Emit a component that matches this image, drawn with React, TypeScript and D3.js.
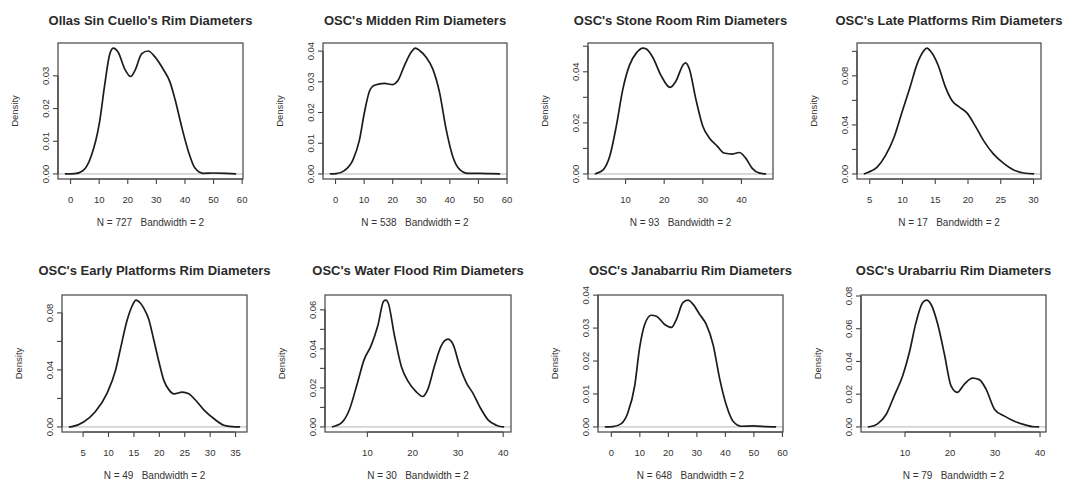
import React from 'react';
import * as d3 from 'd3';

// ---------- data ----------
const titles = [
  "Ollas Sin Cuello's Rim Diameters",
  "OSC's Midden Rim Diameters",
  "OSC's Stone Room Rim Diameters",
  "OSC's Late Platforms Rim Diameters",
  "OSC's Early Platforms Rim Diameters",
  "OSC's Water Flood Rim Diameters",
  "OSC's Janabarriu Rim Diameters",
  "OSC's Urabarriu Rim Diameters",
];
const sampleSizes = [727, 538, 93, 17, 49, 30, 648, 79];
const bandwidths = [2, 2, 2, 2, 2, 2, 2, 2];

const xTicks = [
  [0, 10, 20, 30, 40, 50, 60],
  [0, 10, 20, 30, 40, 50, 60],
  [10, 20, 30, 40],
  [5, 10, 15, 20, 25, 30],
  [5, 10, 15, 20, 25, 30, 35],
  [10, 20, 30, 40],
  [0, 10, 20, 30, 40, 50, 60],
  [10, 20, 30, 40],
];
const yTicks = [
  [0, 0.01, 0.02, 0.03],
  [0, 0.01, 0.02, 0.03, 0.04],
  [0, 0.01, 0.02, 0.03, 0.04, 0.05],
  [0, 0.02, 0.04, 0.06, 0.08, 0.1],
  [0, 0.02, 0.04, 0.06, 0.08],
  [0, 0.01, 0.02, 0.03, 0.04, 0.05, 0.06],
  [0, 0.01, 0.02, 0.03, 0.04],
  [0, 0.02, 0.04, 0.06, 0.08],
];
const yTickLabels = [
  ["0.00", "0.01", "0.02", "0.03"],
  ["0.00", "0.01", "0.02", "0.03", "0.04"],
  ["0.00", "", "0.02", "", "0.04", ""],
  ["0.00", "", "0.04", "", "0.08", ""],
  ["0.00", "", "0.04", "", "0.08"],
  ["0.00", "", "0.02", "", "0.04", "", "0.06"],
  ["0.00", "0.01", "0.02", "0.03", "0.04"],
  ["0.00", "0.02", "0.04", "0.06", "0.08"],
];

const ollasCurve: [number, number][] = [
  [-2, 0], [1.4, 0.0001], [4.3, 0.001], [7.2, 0.0054], [10.1, 0.0157], [11.9, 0.027],
  [13.6, 0.0363], [14.9, 0.0385], [16.6, 0.0373], [19.0, 0.032], [21.0, 0.0298],
  [22.5, 0.0316], [24.9, 0.0368], [27.2, 0.0376], [29.5, 0.0358], [32.4, 0.032],
  [34.8, 0.028], [36.5, 0.0229], [38.8, 0.0146], [41.2, 0.0069], [43.5, 0.0018],
  [46.4, 0.0002], [49.9, 0.0003], [54.6, 0.0002], [57.9, 0],
];
const middenCurve: [number, number][] = [
  [-2, 0], [0.2, 0.0001], [3.1, 0.0011], [6.1, 0.0046], [8.4, 0.0112], [10.1, 0.02],
  [11.9, 0.027], [13.6, 0.0289], [17.1, 0.0295], [20.0, 0.0291], [21.8, 0.0304],
  [24.1, 0.0353], [26.5, 0.0397], [27.9, 0.041], [29.4, 0.0402], [31.7, 0.038],
  [34.0, 0.0342], [36.4, 0.0265], [38.7, 0.0145], [41.0, 0.0057], [43.4, 0.0015],
  [46.3, 0.0002], [50.9, 0.0002], [54.4, 0.0001], [57.6, 0],
];
const stoneRoomCurve: [number, number][] = [
  [2.05, 0], [2.4, 0.0002], [4.2, 0.0016], [5.9, 0.0069], [7.6, 0.0187], [9.3, 0.0332],
  [11.0, 0.0425], [12.8, 0.0474], [14.5, 0.0493], [15.3, 0.049], [17.0, 0.0458],
  [19.2, 0.0385], [21.5, 0.0339], [23.1, 0.0365], [24.8, 0.0425], [25.5, 0.0435],
  [26.5, 0.0412], [28.2, 0.0293], [30.0, 0.0187], [31.7, 0.0141], [33.8, 0.0108],
  [35.5, 0.0082], [37.7, 0.0078], [39.4, 0.0084], [41.1, 0.0062], [42.8, 0.0022],
  [44.7, 0.0003], [46.4, 0],
];
const latePlatformsCurve: [number, number][] = [
  [4.1, 0], [4.8, 0.0014], [6.1, 0.0054], [7.4, 0.0149], [8.7, 0.0297], [9.9, 0.05],
  [11.2, 0.0716], [12.2, 0.0892], [13.2, 0.1], [13.7, 0.1027], [14.5, 0.0986],
  [15.5, 0.0878], [16.5, 0.0716], [17.6, 0.0595], [18.6, 0.0549], [19.8, 0.05],
  [21.1, 0.0392], [22.4, 0.027], [23.9, 0.0162], [25.4, 0.0089], [26.9, 0.0035],
  [28.5, 0.0008], [30.1, 0],
];
const earlyPlatformsCurve: [number, number][] = [
  [2.2, 0], [2.8, 0.0002], [5.1, 0.0035], [7.4, 0.0106], [9.7, 0.0235], [11.4, 0.04],
  [12.3, 0.054], [13.7, 0.0753], [14.6, 0.0845], [15.4, 0.089], [16.3, 0.0868],
  [16.9, 0.0835], [17.9, 0.0757], [18.9, 0.0612], [20.0, 0.0445], [20.9, 0.0325],
  [21.9, 0.026], [22.9, 0.0232], [24.5, 0.0244], [25.8, 0.0232], [27.1, 0.0189],
  [28.8, 0.0118], [30.7, 0.0059], [32.7, 0.0012], [34.3, 0.0002], [35.9, 0],
];
const waterFloodCurve: [number, number][] = [
  [2.16, 0], [2.3, 0.0001], [3.7, 0.0012], [4.5, 0.0026], [6.0, 0.0087], [7.8, 0.0225],
  [9.3, 0.0346], [10.8, 0.0415], [12.3, 0.0518], [13.6, 0.0645], [14.1, 0.065],
  [14.6, 0.0635], [16.0, 0.0466], [17.5, 0.031], [19.0, 0.0233], [20.7, 0.0182],
  [22.2, 0.0156], [23.3, 0.019], [24.8, 0.0311], [26.3, 0.0415], [27.8, 0.045],
  [28.9, 0.0424], [30.4, 0.0311], [31.9, 0.0225], [33.3, 0.0173], [34.8, 0.0104],
  [36.7, 0.0035], [38.5, 0.0009], [39.6, 0.0001], [40.2, 0],
];
const janabarriuCurve: [number, number][] = [
  [-2.27, 0], [0.6, 0.0001], [3.5, 0.001], [5.8, 0.0043], [8.2, 0.0125], [9.9, 0.0239],
  [11.7, 0.0311], [14.0, 0.0339], [15.8, 0.0336], [18.7, 0.0311], [21.1, 0.0302],
  [22.8, 0.0326], [25.1, 0.0377], [26.9, 0.0385], [28.7, 0.0372], [31.0, 0.0341],
  [33.3, 0.0311], [35.7, 0.0249], [38.0, 0.0146], [40.4, 0.0064], [42.7, 0.0017],
  [45.6, 0.0002], [49.7, 0.0003], [54.4, 0.0001], [57.8, 0],
];
const urabarriuCurve: [number, number][] = [
  [1.74, 0], [2.1, 0.0001], [3.9, 0.0019], [5.8, 0.0076], [7.6, 0.019], [9.5, 0.0314],
  [11.0, 0.0459], [12.4, 0.0634], [13.9, 0.0758], [14.8, 0.0775], [15.8, 0.0748],
  [17.3, 0.0624], [18.8, 0.0438], [20.2, 0.0252], [21.6, 0.0211], [23.2, 0.0262],
  [25.0, 0.0298], [26.5, 0.0289], [28.0, 0.0231], [29.9, 0.0107], [32.1, 0.0066],
  [34.3, 0.0035], [36.5, 0.0014], [38.7, 0.0001], [39.8, 0],
];
const curves = [
  ollasCurve, middenCurve, stoneRoomCurve, latePlatformsCurve,
  earlyPlatformsCurve, waterFloodCurve, janabarriuCurve, urabarriuCurve,
];

// ---------- layout ----------
const boxLefts = [58, 323, 588, 857, 62, 325, 598, 861];
const boxRights = [243, 507, 773, 1041, 247, 511, 783, 1046];
const rowTops = [43, 295];
const rowBottoms = [179, 432];
const rowTitleY = [22, 272];

const FONT = "'Liberation Sans', Arial, Helvetica, sans-serif";
const TEXT = '#333';

function Panel({ i }: { i: number }) {
  const data = curves[i];
  const row = i < 4 ? 0 : 1;
  const left = boxLefts[i];
  const right = boxRights[i];
  const top = rowTops[row];
  const bottom = rowBottoms[row];
  const x0 = data[0][0];
  const x1 = data[data.length - 1][0];
  const xPad = 0.04 * (x1 - x0);
  const peak = d3.max(data, (d) => d[1]) as number;
  const x = d3.scaleLinear().domain([x0 - xPad, x1 + xPad]).range([left, right]);
  const y = d3.scaleLinear().domain([-0.04 * peak, 1.04 * peak]).range([bottom, top]);
  const line = d3
    .line<[number, number]>()
    .x((d) => x(d[0]))
    .y((d) => y(d[1]))
    .curve(d3.curveMonotoneX);
  const xt = xTicks[i];
  const yt = yTicks[i];
  const cx = (left + right) / 2;
  const cy = (top + bottom) / 2;
  return (
    <g>
      <text
        x={cx}
        y={rowTitleY[row]}
        textAnchor="middle"
        dominantBaseline="middle"
        fontFamily={FONT}
        fontWeight="bold"
        fontSize={13}
        fill="#2a2a2a"
      >
        {titles[i]}
      </text>
      {/* zero line */}
      <line x1={left} x2={right} y1={y(0)} y2={y(0)} stroke="#b5b5b5" strokeWidth={1} />
      {/* density curve */}
      <path d={line(data) || ''} fill="none" stroke="#1c1c1c" strokeWidth={1.7} strokeLinejoin="round" />
      {/* box */}
      <rect x={left} y={top} width={right - left} height={bottom - top} fill="none" stroke="#444" strokeWidth={1.2} />
      {/* x axis */}
      <line x1={x(xt[0])} x2={x(xt[xt.length - 1])} y1={bottom} y2={bottom} stroke="#444" strokeWidth={1.2} />
      {xt.map((t) => (
        <g key={'x' + t}>
          <line x1={x(t)} x2={x(t)} y1={bottom} y2={bottom + 5} stroke="#444" strokeWidth={1.1} />
          <text
            x={x(t)}
            y={bottom + 21}
            textAnchor="middle"
            dominantBaseline="middle"
            fontFamily={FONT}
            fontSize={9.5}
            fill={TEXT}
          >
            {t}
          </text>
        </g>
      ))}
      {/* y axis */}
      <line x1={left} x2={left} y1={y(yt[0])} y2={y(yt[yt.length - 1])} stroke="#444" strokeWidth={1.2} />
      {yt.map((t, k) => (
        <g key={'y' + k}>
          <line x1={left - 5} x2={left} y1={y(t)} y2={y(t)} stroke="#444" strokeWidth={1.1} />
          {yTickLabels[i][k] ? (
            <text
              transform={`translate(${left - 11.5},${y(t)}) rotate(-90)`}
              textAnchor="middle"
              dominantBaseline="middle"
              fontFamily={FONT}
              fontSize={9.5}
              fill={TEXT}
            >
              {yTickLabels[i][k]}
            </text>
          ) : null}
        </g>
      ))}
      <text
        transform={`translate(${left - 43},${cy}) rotate(-90)`}
        textAnchor="middle"
        dominantBaseline="middle"
        fontFamily={FONT}
        fontSize={9.5}
        fill={TEXT}
      >
        Density
      </text>
      <text
        x={cx}
        y={bottom + 44}
        textAnchor="middle"
        dominantBaseline="middle"
        fontFamily={FONT}
        fontSize={10}
        fill={TEXT}
        style={{ whiteSpace: 'pre' }}
      >
        {`N = ${sampleSizes[i]}   Bandwidth = ${bandwidths[i]}`}
      </text>
    </g>
  );
}

export default function App() {
  return (
    <svg
      width={1073}
      height={486}
      viewBox="0 0 1073 486"
      style={{ position: 'absolute', left: 0, top: 0, background: '#fff' }}
    >
      <rect x={0} y={0} width={1073} height={486} fill="#fff" />
      {titles.map((_, i) => (
        <Panel key={i} i={i} />
      ))}
    </svg>
  );
}
